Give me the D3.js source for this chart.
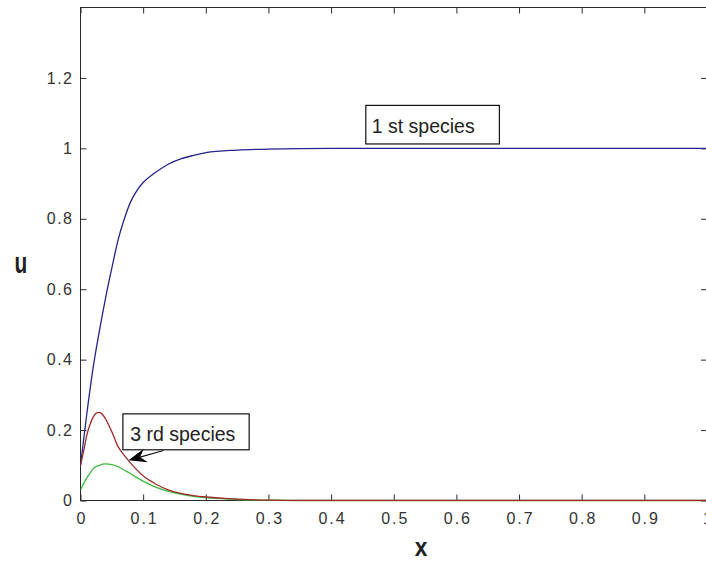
<!DOCTYPE html>
<html>
<head>
<meta charset="utf-8">
<script src="https://cdn.jsdelivr.net/npm/d3@7"></script>
<style>
  html, body { margin: 0; padding: 0; background: #fff; }
  svg { display: block; }
  text { font-family: "Liberation Sans", Arial, Helvetica, sans-serif; }
</style>
</head>
<body>
<script>
// Species profiles u(x)
const species1X = [0, 0.01, 0.02, 0.03, 0.04, 0.05, 0.06, 0.07, 0.08, 0.09, 0.10, 0.12, 0.14, 0.16, 0.18, 0.20, 0.25, 0.30, 0.40, 0.50, 0.60, 0.70, 0.80, 0.90, 1.00];
const species1U = [0.10, 0.245, 0.375, 0.48, 0.575, 0.66, 0.74, 0.80, 0.848, 0.88, 0.903, 0.932, 0.955, 0.970, 0.980, 0.988, 0.995, 0.998, 1.0, 1.0, 1.0, 1.0, 1.0, 1.0, 1.0];

const species2X = [0, 0.005, 0.01, 0.015, 0.02, 0.03, 0.04, 0.05, 0.06, 0.07, 0.08, 0.09, 0.10, 0.12, 0.14, 0.16, 0.18, 0.20, 0.23, 0.26, 0.30, 0.35, 0.40, 1.00];
const species2U = [0.03, 0.048, 0.064, 0.077, 0.09, 0.100, 0.104, 0.102, 0.096, 0.086, 0.076, 0.065, 0.055, 0.038, 0.026, 0.018, 0.012, 0.008, 0.005, 0.002, 0.001, 0, 0, 0];

const species3X = [0, 0.005, 0.01, 0.015, 0.02, 0.025, 0.03, 0.035, 0.04, 0.05, 0.06, 0.07, 0.08, 0.09, 0.10, 0.12, 0.14, 0.16, 0.18, 0.20, 0.23, 0.26, 0.30, 0.35, 0.40, 1.00];
const species3U = [0.10, 0.14, 0.185, 0.215, 0.236, 0.248, 0.25, 0.244, 0.232, 0.195, 0.153, 0.128, 0.106, 0.087, 0.07, 0.047, 0.030, 0.020, 0.014, 0.010, 0.006, 0.003, 0.001, 0, 0, 0];

const seriesColors = ["#24248a", "#3cba3c", "#a02a2a"];

const xTicks = [0, 0.1, 0.2, 0.3, 0.4, 0.5, 0.6, 0.7, 0.8, 0.9, 1];
const xTickLabels = ["0", "0.1", "0.2", "0.3", "0.4", "0.5", "0.6", "0.7", "0.8", "0.9", "1"];
const yTicks = [0, 0.2, 0.4, 0.6, 0.8, 1, 1.2];
const yTickLabels = ["0", "0.2", "0.4", "0.6", "0.8", "1", "1.2"];

const xLabel = "x";
const yLabel = "u";

// Text-box annotations: box corners and text start in data units
const notes = [
  { text: "1 st species", x0: 0.4554, x1: 0.6686, u0: 1.0125, u1: 1.122, tx: 0.4649, tu: 1.045 },
  { text: "3 rd species", x0: 0.0677, x1: 0.2692, u0: 0.144, u1: 0.246, tx: 0.0793, tu: 0.1703 }
];
// Arrow from the second note to the third species curve
const arrowFrom = [0.1324, 0.142];
const arrowTo = [0.0766, 0.114];

const W = 706, H = 561;
const plotL = 80.5, plotR = 707, plotT = 7.5, plotB = 500.5;

const x = d3.scaleLinear().domain([0, 1]).range([plotL, plotR]);
const y = d3.scaleLinear().domain([0, 1.4]).range([plotB, plotT]);

const svg = d3.select("body").append("svg")
  .attr("width", W).attr("height", H)
  .attr("viewBox", `0 0 ${W} ${H}`);

svg.append("rect").attr("width", W).attr("height", H).attr("fill", "#fff");

const axisColor = "#2a2a2a";
const tickLen = 6;

// Axes box
svg.append("rect")
  .attr("x", plotL).attr("y", plotT)
  .attr("width", plotR - plotL).attr("height", plotB - plotT)
  .attr("fill", "none").attr("stroke", axisColor).attr("stroke-width", 1);

// Bottom and top axes (ticks pointing inward)
const xAxisB = d3.axisBottom(x).tickValues(xTicks).tickSize(-tickLen).tickPadding(12)
  .tickFormat((d, i) => xTickLabels[i]);
const gxB = svg.append("g").attr("transform", `translate(0,${plotB})`).call(xAxisB);
const xAxisT = d3.axisTop(x).tickValues(xTicks).tickSize(-tickLen).tickFormat("");
const gxT = svg.append("g").attr("transform", `translate(0,${plotT})`).call(xAxisT);

// Left and right axes
const yAxisL = d3.axisLeft(y).tickValues(yTicks).tickSize(-tickLen).tickPadding(8)
  .tickFormat((d, i) => yTickLabels[i]);
const gyL = svg.append("g").attr("transform", `translate(${plotL},0)`).call(yAxisL);
const yAxisR = d3.axisRight(y).tickValues(yTicks).tickSize(-tickLen).tickFormat("");
const gyR = svg.append("g").attr("transform", `translate(${plotR},0)`).call(yAxisR);

[gxB, gxT, gyL, gyR].forEach(g => {
  g.select(".domain").remove();
  g.selectAll(".tick line").attr("stroke", axisColor).attr("stroke-width", 1);
  g.selectAll(".tick text")
    .attr("fill", "#333")
    .style("font-size", "16px")
    .style("font-family", "\"Liberation Sans\", Arial, sans-serif");
});
gxB.selectAll(".tick text").style("letter-spacing", "2px").attr("dx", "1px");
gyL.selectAll(".tick text").style("letter-spacing", "1.5px").attr("dx", "1px");

// Curves
svg.append("clipPath").attr("id", "plotclip")
  .append("rect").attr("x", plotL).attr("y", plotT)
  .attr("width", plotR - plotL).attr("height", plotB - plotT + 1);

const line = d3.line()
  .x(d => x(d[0]))
  .y(d => y(d[1]))
  .curve(d3.curveMonotoneX);

const series = [
  d3.zip(species1X, species1U),
  d3.zip(species2X, species2U),
  d3.zip(species3X, species3U)
];

svg.append("g").attr("clip-path", "url(#plotclip)")
  .selectAll("path")
  .data(series)
  .join("path")
  .attr("d", line)
  .attr("fill", "none")
  .attr("stroke", (d, i) => seriesColors[i])
  .attr("stroke-width", 1.3);

// Annotation boxes
const noteG = svg.append("g");
notes.forEach(n => {
  noteG.append("rect")
    .attr("x", x(n.x0)).attr("y", y(n.u1))
    .attr("width", x(n.x1) - x(n.x0)).attr("height", y(n.u0) - y(n.u1))
    .attr("fill", "#fff").attr("stroke", "#111").attr("stroke-width", 1.2);
  noteG.append("text")
    .attr("x", x(n.tx)).attr("y", y(n.tu))
    .attr("fill", "#222")
    .style("font-size", "19.5px")
    .text(n.text);
});

// Arrow
const ax0 = x(arrowFrom[0]), ay0 = y(arrowFrom[1]);
const ax1 = x(arrowTo[0]), ay1 = y(arrowTo[1]);
const dx = ax0 - ax1, dy = ay0 - ay1;
const len = Math.hypot(dx, dy);
const ux = dx / len, uy = dy / len;      // from tip toward tail
const px = -uy, py = ux;                 // perpendicular
const headL = 18, headW = 7, notch = 12;
svg.append("line")
  .attr("x1", ax0).attr("y1", ay0)
  .attr("x2", ax1 + ux * notch).attr("y2", ay1 + uy * notch)
  .attr("stroke", "#111").attr("stroke-width", 1.2);
svg.append("path")
  .attr("d", d3.line()([
    [ax1, ay1],
    [ax1 + ux * headL + px * headW, ay1 + uy * headL + py * headW],
    [ax1 + ux * notch, ay1 + uy * notch],
    [ax1 + ux * headL - px * headW, ay1 + uy * headL - py * headW]
  ]) + "Z")
  .attr("fill", "#000");

// Axis labels
svg.append("text")
  .attr("x", 421).attr("y", 556)
  .attr("text-anchor", "middle")
  .attr("fill", "#222")
  .style("font-size", "24px")
  .style("font-weight", "bold")
  .attr("transform", "translate(421,556) scale(0.95,1.05) translate(-421,-556)")
  .text(xLabel);

svg.append("text")
  .attr("x", 21).attr("y", 273)
  .attr("text-anchor", "middle")
  .attr("fill", "#222")
  .style("font-size", "22px")
  .style("font-weight", "bold")
  .attr("transform", "translate(21,273) scale(0.95,1.35) translate(-21,-273)")
  .text(yLabel);
</script>
</body>
</html>
